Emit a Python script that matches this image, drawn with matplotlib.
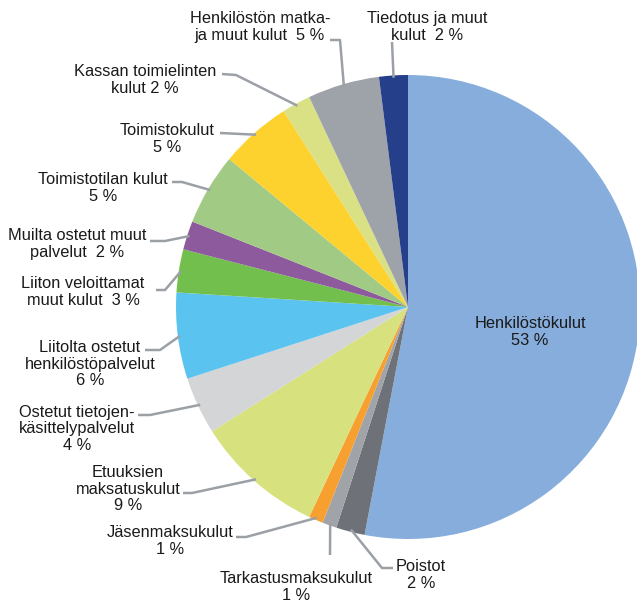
import numpy as np
import matplotlib
matplotlib.use("Agg")
import matplotlib.pyplot as plt

plt.rcParams['font.family'] = ['Liberation Sans', 'DejaVu Sans']

# Kuluerät, myötäpäivään ylhäältä alkaen
names = ["Henkilöstökulut", "Poistot", "Tarkastusmaksukulut", "Jäsenmaksukulut",
         "Etuuksien\nmaksatuskulut", "Ostetut tietojen-\nkäsittelypalvelut",
         "Liitolta ostetut\nhenkilöstöpalvelut", "Liiton veloittamat\nmuut kulut",
         "Muilta ostetut muut\npalvelut", "Toimistotilan kulut", "Toimistokulut",
         "Kassan toimielinten\nkulut", "Henkilöstön matka-\nja muut kulut",
         "Tiedotus ja muut\nkulut"]
values = [53, 2, 1, 1, 9, 4, 6, 3, 2, 5, 5, 2, 5, 2]
seps = ["\n", "\n", "\n", "\n", "\n", "\n", "\n", "  ", "  ", "\n", "\n", " ", "  ", "  "]
colors = ["#86ADDC", "#6E7178", "#A0A4A8", "#F7A030", "#D7E17E", "#D3D5D7",
          "#5BC3F0", "#73BF4E", "#8E5A9E", "#A1CA85", "#FDD22E", "#D9E184",
          "#9EA3A9", "#263F8A"]

W, H = 637, 602
CX, CY, R = 408, 307, 232

fig = plt.figure(figsize=(W / 100, H / 100), dpi=100)
ax = fig.add_axes([(CX - R) / W, (H - CY - R) / H, 2 * R / W, 2 * R / H])

ax.pie(values, colors=colors, startangle=90, counterclock=False, radius=1,
       wedgeprops=dict(linewidth=0))
ax.set_xlim(-1, 1)
ax.set_ylim(-1, 1)
ax.axis("off")


def px(x, y):
    return (x - CX) / R, (CY - y) / R


# tekstin keskipiste ja viivan alku/mutka pikseleinä
text_pos = [(530, 332), (421, 575), (296, 587), (170, 541), (128, 489), (77, 429),
            (90, 364), (83, 292), (77, 244), (103, 188), (167, 139), (145, 80),
            (260, 27), (427, 27)]
leaders = [None,
           [(393, 568), (382, 568)],
           [(330, 555)],
           [(236, 537), (246, 537)],
           [(183, 493), (192, 493)],
           [(138, 415), (150, 415)],
           [(145, 350), (160, 350)],
           [(156, 290), (165, 290)],
           [(150, 241), (165, 241)],
           [(172, 182), (182, 182)],
           [(220, 133)],
           [(222, 74), (236, 75)],
           [(330, 40), (340, 40)],
           [(392, 42)]]

total = sum(values)
cum = np.cumsum([0] + values)
for i, v in enumerate(values):
    mid = 90 - (cum[i] + v / 2) / total * 360
    ex, ey = np.cos(np.radians(mid)), np.sin(np.radians(mid))
    tx, ty = px(*text_pos[i])
    ax.text(tx, ty, f"{names[i]}{seps[i]}{v} %", ha="center", va="center",
            fontsize=11.8, color="#1a1a1a", linespacing=1.12, clip_on=False)
    if leaders[i]:
        pts = [px(*p) for p in leaders[i]] + [(ex * 0.99, ey * 0.99)]
        xs, ys = zip(*pts)
        ax.plot(xs, ys, color="#9BA0A6", lw=1.8, clip_on=False,
                solid_capstyle="butt")

fig.savefig("out.png", dpi=100)
